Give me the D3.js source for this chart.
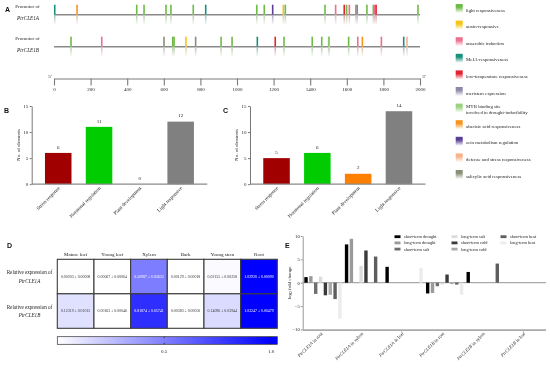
<!DOCTYPE html>
<html><head><meta charset="utf-8">
<script src="https://cdn.jsdelivr.net/npm/d3@7"></script>
<style>
body{margin:0;background:#fff}
svg{display:block;will-change:transform}
text{font-family:"Liberation Serif","Times New Roman",serif;fill:#222}
.pl{font-family:"Liberation Sans",Arial,sans-serif;font-weight:bold;font-size:7px;fill:#111}
</style>
</head><body><svg id="c" width="550" height="369"></svg>
<script>
// ---------------- DATA ----------------
const elementTypes = ["light responsiveness","auxin-responsive","anaerobic induction","MeJA-responsiveness","low-temperature responsiveness","meristem expression","MYB binding site|involved in drought-inducibility","abscisic acid responsiveness","zein metabolism regulation","defense and stress responsiveness","salicylic acid responsiveness"];
const elementColors = ["#6dbb45","#f5c518","#ec6f8c","#16917e","#e3202f","#8c88a8","#9ad37e","#f7941d","#5a3f96","#f9b28c","#888f78"];
const promoterA_pos  = [4,126,452,492,612,639,761,829,1108,1149,1195,1253,1264,1481,1539,1586,1599,1614,1650,1657,1710,1745,1752,1760,1989];
const promoterA_type = [3,7,0,0,0,0,0,3,0,0,8,1,0,0,2,4,0,2,5,10,0,0,2,4,0];
const promoterB_pos  = [93,261,601,649,656,721,774,913,973,1111,1209,1257,1411,1463,1501,1504,1610,1660,1685,1789,1911,1929];
const promoterB_type = [0,2,10,0,0,1,10,0,0,3,4,0,0,0,0,6,0,2,7,2,3,9];
const promoterTicks = [0,200,400,600,800,1000,1200,1400,1600,1800,2000];

const funcCategories = ["Stress response","Hormonal regulation","Plant development","Light responsive"];
const countsB = [6,11,0,12];
const countsC = [5,6,2,14];
const funcColors = ["#a00000","#00cc00","#ff8000","#808080"];
const countTicks = [0,5,10,15];

const tissues = ["Mature leaf","Young leaf","Xylem","Bark","Young stem","Root"];
const heatGenes = ["PtrCLE1A","PtrCLE1B"];
const expr1A_mean = ["0.00203","0.00067","0.50987","0.00129","0.02155","1.02920"];
const expr1A_se   = ["0.00008","0.00004","0.03633","0.00018","0.00258","0.00090"];
const expr1B_mean = ["0.12319","0.00163","0.81874","0.00383","0.14096","1.03247"];
const expr1B_se   = ["0.01015","0.00046","0.05741","0.00050","0.03944","0.00479"];
const colorbarTicks = [0.5,1.0];

const stressGroupGene = ["PtrCLE1A","PtrCLE1A","PtrCLE1A","PtrCLE1B","PtrCLE1B","PtrCLE1B"];
const stressGroupTissue = ["root","xylem","leaf","root","xylem","leaf"];
const treatments = ["short-term drought","long-term drought","short-term salt","long-term salt","short-term cold","long-term cold","short-term heat","long-term heat"];
const treatmentColors = ["#000000","#9a9a9a","#6e6e6e","#dcdcdc","#3a3a3a","#a8a8a8","#5e5e5e","#ececec"];
const stDrought = [1.2, 8.2, 3.4, -2.3, 2.3, 0];
const ltDrought = [1.4, 9.4, 0, -2.2, 0, 0];
const stSalt    = [-2.4, 0, 0, -0.75, 0, 0];
const ltSalt    = [1.3, 3.6, 0, -0.4, 0, 0];
const stCold    = [-2.7, 6.9, 0, 1.75, 0, 0];
const ltCold    = [-2.6, 0, 0, -0.3, 0, 0];
const stHeat    = [-3.5, 5.6, 0, -0.4, 4.1, 0];
const ltHeat    = [-7.7, 0, 3.2, -2.6, 0, 0];
const foldTicks = [-10,-5,0,5,10];

// ---------------- DRAW ----------------
const svg = d3.select("#c");
const defs = svg.append("defs");
const serif = '"Liberation Serif","Times New Roman",serif';

function styleAxis(g, fs, col){
  g.attr("font-family", serif).attr("font-size", fs);
  g.selectAll("text").attr("fill","#222");
  g.selectAll("path,line").attr("stroke", col || "#333");
}

// gradients
elementColors.forEach((c,i)=>{
  const g = defs.append("linearGradient").attr("id","el"+i).attr("x1",0).attr("y1",0).attr("x2",0).attr("y2",1);
  g.append("stop").attr("offset","0%").attr("stop-color",c);
  g.append("stop").attr("offset","47%").attr("stop-color",c);
  g.append("stop").attr("offset","53%").attr("stop-color",d3.interpolateRgb(c,"#d6d6d6")(0.7));
  g.append("stop").attr("offset","100%").attr("stop-color","#fbfbfb");
  const s = defs.append("linearGradient").attr("id","sw"+i).attr("x1",0).attr("y1",0).attr("x2",0).attr("y2",1);
  s.append("stop").attr("offset","0%").attr("stop-color",c);
  s.append("stop").attr("offset","35%").attr("stop-color",c);
  s.append("stop").attr("offset","100%").attr("stop-color","#ffffff");
});

// ===== Panel A =====
svg.append("text").attr("class","pl").attr("x",5).attr("y",12).text("A");
const xA = d3.scaleLinear().domain([0,2000]).range([54,420]);
const tracks = [
  {y:14.7, gene:"PtrCLE1A", pos:promoterA_pos, type:promoterA_type},
  {y:46.7, gene:"PtrCLE1B", pos:promoterB_pos, type:promoterB_type}
];
tracks.forEach(t=>{
  svg.append("text").attr("x",27.5).attr("y",t.y-6.3).attr("text-anchor","middle").attr("font-size",5).text("Promotor of");
  svg.append("text").attr("x",28).attr("y",t.y+5.3).attr("text-anchor","middle").attr("font-size",5.2).attr("font-style","italic").text(t.gene);
  svg.append("line").attr("x1",xA(0)).attr("x2",xA(2000)).attr("y1",t.y).attr("y2",t.y).attr("stroke","#8a8a8a").attr("stroke-width",1.4);
  svg.append("g").selectAll("rect").data(t.pos).join("rect")
    .attr("x",d=>xA(d)-0.8).attr("width",1.6).attr("y",t.y-10).attr("height",20)
    .attr("fill",(d,i)=>`url(#el${t.type[i]})`);
});
const axA = svg.append("g").attr("transform","translate(0,78.5)")
  .call(d3.axisBottom(xA).tickValues(promoterTicks).tickFormat(d3.format("d")).tickSize(7).tickSizeOuter(0).tickPadding(2));
styleAxis(axA,5,"#7a7a7a");
axA.selectAll("path,line").attr("stroke-width",1.1);
svg.append("text").attr("x",50).attr("y",78).attr("text-anchor","middle").attr("font-size",5).text("5'");
svg.append("text").attr("x",424).attr("y",78).attr("text-anchor","middle").attr("font-size",5).text("3'");

// legend A
const legA = svg.append("g");
elementTypes.forEach((name,i)=>{
  const top = 4 + i*16.6;
  legA.append("rect").attr("x",455.7).attr("y",top).attr("width",7).attr("height",9).attr("fill",`url(#sw${i})`);
  const lines = name.split("|");
  if(lines.length===1){
    legA.append("text").attr("x",466).attr("y",top+7.6).attr("font-size",4.8).text(name);
  } else {
    legA.append("text").attr("x",466).attr("y",top+4.6).attr("font-size",4.8).text(lines[0]);
    legA.append("text").attr("x",466).attr("y",top+10.6).attr("font-size",4.8).text(lines[1]);
  }
});

// ===== Panels B & C =====
function barPanel(letter, lx, ax, vals){
  svg.append("text").attr("class","pl").attr("x",lx).attr("y",113).text(letter);
  const y = d3.scaleLinear().domain([0,15]).range([184.2,106]);
  const x = d3.scaleBand().domain(funcCategories).range([ax, ax+175.5]).paddingInner(0.35).paddingOuter(0.325);
  const g = svg.append("g");
  g.selectAll("rect").data(vals).join("rect")
    .attr("x",(d,i)=>x(funcCategories[i])).attr("width",x.bandwidth())
    .attr("y",d=>y(d)).attr("height",d=>y(0)-y(d))
    .attr("fill",(d,i)=>funcColors[i]);
  g.selectAll("text.v").data(vals).join("text").attr("class","v")
    .attr("x",(d,i)=>x(funcCategories[i])+x.bandwidth()/2).attr("y",d=>y(d)-4.3)
    .attr("text-anchor","middle").attr("font-size",5).text(d=>d);
  const ya = svg.append("g").attr("transform",`translate(${ax},0)`)
    .call(d3.axisLeft(y).tickValues(countTicks).tickSize(2).tickSizeOuter(0).tickPadding(1.5));
  styleAxis(ya,5,"#555");
  ya.selectAll("path,line").attr("stroke-width",0.8);
  svg.append("line").attr("x1",ax).attr("x2",ax+175.5).attr("y1",y(0)).attr("y2",y(0)).attr("stroke","#8a8a8a").attr("stroke-width",1.3);
  svg.append("text").attr("transform",`translate(${ax-12},145) rotate(-90)`).attr("text-anchor","middle").attr("font-size",5).text("No. of elements");
  funcCategories.forEach(c=>{
    svg.append("text").attr("transform",`translate(${x(c)+x.bandwidth()/2+2},188.5) rotate(-45)`)
      .attr("text-anchor","end").attr("font-size",5).text(c);
  });
}
barPanel("B",4,31.7,countsB);
barPanel("C",223,250,countsC);

// ===== Panel D =====
svg.append("text").attr("class","pl").attr("x",7).attr("y",247.5).text("D");
const xD = d3.scaleBand().domain(tissues).range([57.3,277.3]);
const yD = d3.scaleBand().domain(heatGenes).range([259.3,328.3]);
const color = d3.scaleLinear().domain([0,1]).range(["#ffffff","#0000ff"]).clamp(true);
const heatRows = [
  {gene:"PtrCLE1A", mean:expr1A_mean, se:expr1A_se},
  {gene:"PtrCLE1B", mean:expr1B_mean, se:expr1B_se}
];
tissues.forEach(t=>{
  svg.append("text").attr("x",xD(t)+xD.bandwidth()/2).attr("y",256).attr("text-anchor","middle").attr("font-size",5).text(t);
});
heatRows.forEach(r=>{
  const cy = yD(r.gene)+yD.bandwidth()/2;
  svg.append("text").attr("x",29.5).attr("y",cy-2.3).attr("text-anchor","middle").attr("font-size",5.1).text("Relative expression of");
  svg.append("text").attr("x",29.5).attr("y",cy+6.2).attr("text-anchor","middle").attr("font-size",5.1).attr("font-style","italic").text(r.gene);
  tissues.forEach((t,i)=>{
    const v = +r.mean[i];
    svg.append("rect").attr("x",xD(t)).attr("y",yD(r.gene)).attr("width",xD.bandwidth()).attr("height",yD.bandwidth())
      .attr("fill",color(v)).attr("stroke","#3c3c3c").attr("stroke-width",1.1);
    svg.append("text").attr("x",xD(t)+xD.bandwidth()/2).attr("y",cy+1.3).attr("text-anchor","middle")
      .attr("font-size",3.9).style("fill", v>0.45?"#ffffff":"#333").text(r.mean[i]+" \u00b1 "+r.se[i]);
  });
});
// colorbar
const cbX = d3.scaleLinear().domain([0,1]).range([57.3,271]);
const cbg = defs.append("linearGradient").attr("id","cb").attr("gradientUnits","userSpaceOnUse")
  .attr("x1",cbX(0)).attr("x2",cbX(1)).attr("y1",0).attr("y2",0);
cbg.append("stop").attr("offset","0%").attr("stop-color",color(0));
cbg.append("stop").attr("offset","100%").attr("stop-color",color(1));
svg.append("rect").attr("x",57.3).attr("y",336.7).attr("width",220).attr("height",7.6)
  .attr("fill","url(#cb)").attr("stroke","#333").attr("stroke-width",0.7);
colorbarTicks.forEach(t=>{
  svg.append("line").attr("x1",cbX(t)).attr("x2",cbX(t)).attr("y1",336.7).attr("y2",338.2).attr("stroke","#222").attr("stroke-width",0.8);
  svg.append("line").attr("x1",cbX(t)).attr("x2",cbX(t)).attr("y1",342.8).attr("y2",344.3).attr("stroke","#222").attr("stroke-width",0.8);
  svg.append("text").attr("x",cbX(t)).attr("y",352.8).attr("text-anchor","middle").attr("font-size",5).text(t.toFixed(1));
});

// ===== Panel E =====
svg.append("text").attr("class","pl").attr("x",285).attr("y",247.5).text("E");
const groups = stressGroupGene.map((g,i)=>g+" in "+stressGroupTissue[i]);
const seriesVals = [stDrought,ltDrought,stSalt,ltSalt,stCold,ltCold,stHeat,ltHeat];
const yE = d3.scaleLinear().domain([-10,10]).range([329.4,236]);
const xE = d3.scaleBand().domain(groups).range([302.7,546]).paddingInner(0.08).paddingOuter(0.04);
const xSub = d3.scaleBand().domain(treatments).range([0,xE.bandwidth()]).paddingInner(0.3).paddingOuter(0);
svg.append("line").attr("x1",302.7).attr("x2",546).attr("y1",yE(0)).attr("y2",yE(0)).attr("stroke","#8a8a8a").attr("stroke-width",0.9);
treatments.forEach((tr,k)=>{
  svg.append("g").selectAll("rect").data(seriesVals[k]).join("rect")
    .attr("x",(d,i)=>xE(groups[i])+xSub(tr)).attr("width",xSub.bandwidth())
    .attr("y",d=>yE(Math.max(0,d))).attr("height",d=>Math.abs(yE(d)-yE(0)))
    .attr("fill",treatmentColors[k]);
});
const yaE = svg.append("g").attr("transform","translate(302.7,0)")
  .call(d3.axisLeft(yE).tickValues(foldTicks).tickSize(2).tickSizeOuter(0).tickPadding(1));
styleAxis(yaE,4.6,"#999");
svg.append("line").attr("x1",302.7).attr("x2",546).attr("y1",yE(-10)+0.8).attr("y2",yE(-10)+0.8).attr("stroke","#aaa").attr("stroke-width",1.8);
const yl = svg.append("text").attr("transform","translate(291,283) rotate(-90)").attr("text-anchor","middle").attr("font-size",5);
yl.append("tspan").text("log");
yl.append("tspan").attr("font-size",3.5).attr("dy",1.2).text("2");
yl.append("tspan").attr("dy",-1.2).text(" fold change");
groups.forEach((g,i)=>{
  const t = svg.append("text").attr("transform",`translate(${xE(g)+xE.bandwidth()/2},334) rotate(-45)`)
    .attr("text-anchor","end").attr("font-size",4.7);
  t.append("tspan").attr("font-style","italic").text(stressGroupGene[i]);
  t.append("tspan").text(" in "+stressGroupTissue[i]);
});
// legend E
const legCols = [404,461,510];
treatments.forEach((tr,k)=>{
  const col = Math.floor(k/3), row = k%3;
  const yy = 236.7 + row*6.2;
  svg.append("rect").attr("x",legCols[col]-9.5).attr("y",yy-1.4).attr("width",6).attr("height",2.8).attr("fill",treatmentColors[k]);
  svg.append("text").attr("x",legCols[col]).attr("y",yy+1.5).attr("font-size",4.3).text(tr);
});
</script>
</body></html>
